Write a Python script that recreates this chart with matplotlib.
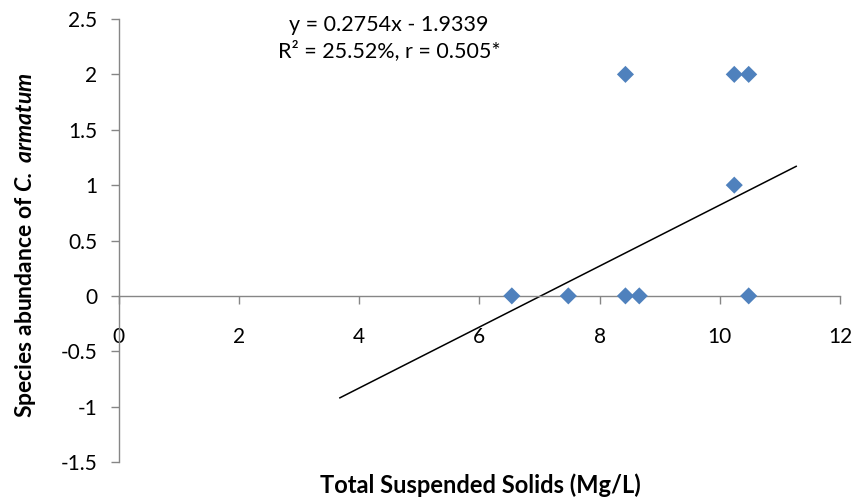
import matplotlib.pyplot as plt
import numpy as np

# ── Data ──────────────────────────────────────────────────────────────────────
tss       = [6.54, 7.48, 8.43, 8.66, 10.48, 8.43, 10.24, 10.48, 10.24]
abundance = [0, 0, 0, 0, 0, 2, 2, 2, 1]

slope, intercept = 0.2754, -1.9339
trend_x = [3.68, 11.27]

x_ticks = [0, 2, 4, 6, 8, 10, 12]
y_ticks = [-1.5, -1, -0.5, 0, 0.5, 1, 1.5, 2, 2.5]
y_tick_labels = ['-1.5', '-1', '-0.5', '0', '0.5', '1', '1.5', '2', '2.5']

plt.rcParams.update({
    'font.family':         'Lato',
    'mathtext.fontset':    'custom',
    'mathtext.bf':         'Lato:italic:bold',
    'mathtext.rm':         'Lato:bold',
})

AXIS_GREY = '#868686'
MARKER_BLUE = '#4F81BD'

fig = plt.figure(figsize=(8.56, 5.04), dpi=100)
ax = fig.add_axes([0.1386, 0.0833, 0.8428, 0.8790])

ax.scatter(tss, abundance, marker='D', s=8.7 ** 2, color=MARKER_BLUE,
           edgecolors='none', zorder=3)

tx = np.array(trend_x)
ax.plot(tx, slope * tx + intercept, color='black', linewidth=1.1, zorder=2)

ax.set_xlim(0, 12)
ax.set_ylim(-1.5, 2.5)

# x axis crosses at y = 0, Excel style
ax.spines['bottom'].set_position(('data', 0))
for side in ('top', 'right'):
    ax.spines[side].set_visible(False)
for side in ('left', 'bottom'):
    ax.spines[side].set_color(AXIS_GREY)
    ax.spines[side].set_linewidth(1.0)

ax.set_xticks(x_ticks)
ax.set_xticklabels([str(t) for t in x_ticks])
ax.set_yticks(y_ticks)
ax.set_yticklabels(y_tick_labels)
ax.tick_params(axis='both', colors=AXIS_GREY, labelcolor='black',
               labelsize=15, length=5.5, width=1.0, direction='out')
ax.tick_params(axis='x', pad=17)
ax.tick_params(axis='y', pad=10)

# regression equation and fit statistics
fig.text(0.4545, 0.950, f'y = {slope}x - {abs(intercept)}',
         ha='center', va='center', fontsize=15.5)
fig.text(0.4545, 0.899, 'R² = 25.52%, r = 0.505*',
         ha='center', va='center', fontsize=15.5)

fig.text(0.561, 0.037, 'Total Suspended Solids (Mg/L)',
         ha='center', va='center', fontsize=17, fontweight='bold')
fig.text(0.030, 0.513, r'Species abundance of $\mathbf{C.}$ $\mathbf{armatum}$',
         ha='center', va='center', rotation=90, fontsize=16.5,
         fontweight='bold')

fig.savefig('out.png', dpi=100, facecolor='white')
